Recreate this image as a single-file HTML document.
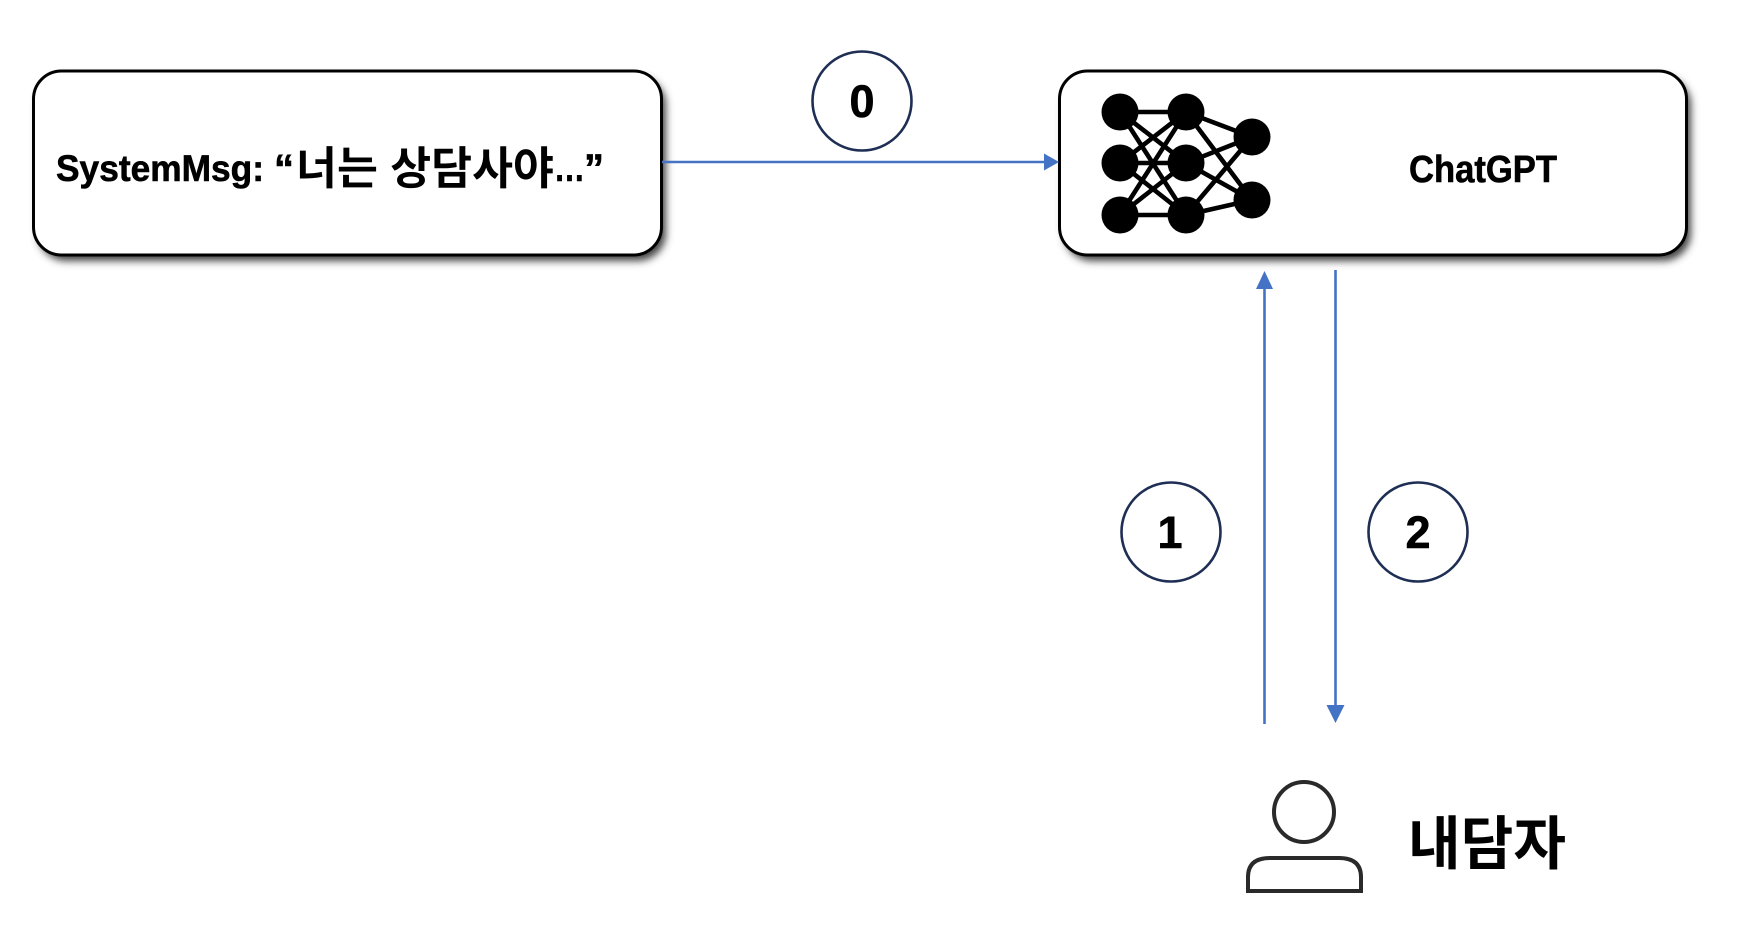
<!DOCTYPE html>
<html>
<head>
<meta charset="utf-8">
<style>
html,body{margin:0;padding:0;background:#fff;}
svg{display:block;}
text{font-family:"Liberation Sans","Noto Sans CJK KR",sans-serif;font-weight:700;fill:#000;}
.h{stroke:#000;stroke-width:.6px;}
</style>
</head>
<body>
<svg width="1738" height="930" viewBox="0 0 1738 930" xmlns="http://www.w3.org/2000/svg">
<defs>
<filter id="sh" x="-5%" y="-15%" width="110%" height="130%"><feGaussianBlur stdDeviation="4"/></filter>
</defs>
<rect width="1738" height="930" fill="#fff"/>

<!-- shadows -->
<rect x="38" y="77" width="628" height="184" rx="28" fill="#444" filter="url(#sh)"/>
<rect x="1064" y="77" width="627" height="184" rx="28" fill="#444" filter="url(#sh)"/>

<!-- boxes -->
<rect x="33.5" y="71" width="628" height="184" rx="28" fill="#fff" stroke="#000" stroke-width="3"/>
<rect x="1059.5" y="71" width="627" height="184" rx="28" fill="#fff" stroke="#000" stroke-width="3"/>

<!-- arrows -->
<g stroke="#4472C4" stroke-width="2.6" fill="none">
<line x1="662" y1="162" x2="1046" y2="162"/>
<line x1="1264.5" y1="286" x2="1264.5" y2="724"/>
<line x1="1335.5" y1="270" x2="1335.5" y2="708"/>
</g>
<g fill="#4472C4">
<polygon points="1059,162 1044,153.5 1044,170.5"/>
<polygon points="1264.5,271 1256,289 1273,289"/>
<polygon points="1335.5,723 1326.5,705 1344.5,705"/>
</g>

<!-- neural net -->
<g stroke="#000" stroke-width="4.6">
<line x1="1120" y1="112" x2="1186" y2="112"/>
<line x1="1120" y1="112" x2="1186" y2="163"/>
<line x1="1120" y1="112" x2="1186" y2="215"/>
<line x1="1120" y1="163" x2="1186" y2="112"/>
<line x1="1120" y1="163" x2="1186" y2="163"/>
<line x1="1120" y1="163" x2="1186" y2="215"/>
<line x1="1120" y1="215" x2="1186" y2="112"/>
<line x1="1120" y1="215" x2="1186" y2="163"/>
<line x1="1120" y1="215" x2="1186" y2="215"/>
<line x1="1186" y1="112" x2="1252" y2="137"/>
<line x1="1186" y1="112" x2="1252" y2="200"/>
<line x1="1186" y1="163" x2="1252" y2="137"/>
<line x1="1186" y1="163" x2="1252" y2="200"/>
<line x1="1186" y1="215" x2="1252" y2="137"/>
<line x1="1186" y1="215" x2="1252" y2="200"/>
</g>
<g fill="#000">
<circle cx="1120" cy="112" r="18.5"/>
<circle cx="1120" cy="163" r="18.5"/>
<circle cx="1120" cy="215" r="18.5"/>
<circle cx="1186" cy="112" r="18.5"/>
<circle cx="1186" cy="163" r="18.5"/>
<circle cx="1186" cy="215" r="18.5"/>
<circle cx="1252" cy="137" r="18.5"/>
<circle cx="1252" cy="200" r="18.5"/>
</g>

<!-- numbered circles -->
<g fill="#fff" stroke="#1F2E54" stroke-width="2.6">
<circle cx="862" cy="101" r="49.5"/>
<circle cx="1171" cy="532" r="49.5"/>
<circle cx="1418" cy="532" r="49.5"/>
</g>
<text class="h" x="862" y="117" font-size="45" text-anchor="middle">0</text>
<text class="h" x="1170" y="548" font-size="45" text-anchor="middle">1</text>
<text class="h" x="1418" y="548" font-size="45" text-anchor="middle">2</text>

<!-- labels -->
<text class="h" x="56" y="181" font-size="37" textLength="208" lengthAdjust="spacingAndGlyphs">SystemMsg:</text>
<text class="h" x="274" y="182" font-size="40" textLength="20" lengthAdjust="spacingAndGlyphs">“</text>
<text x="296" y="184" font-size="45" textLength="258" lengthAdjust="spacingAndGlyphs">너는 상담사야</text>
<text class="h" x="554" y="181" font-size="38" textLength="31" lengthAdjust="spacingAndGlyphs">…</text>
<text class="h" x="584" y="182" font-size="40" textLength="20" lengthAdjust="spacingAndGlyphs">”</text>
<text class="h" x="1409" y="182" font-size="38" textLength="148" lengthAdjust="spacingAndGlyphs">ChatGPT</text>
<text x="1408" y="864" font-size="58" textLength="158" lengthAdjust="spacingAndGlyphs">내담자</text>

<!-- person icon -->
<g fill="none" stroke="#2a2a2a" stroke-width="4">
<circle cx="1304" cy="812" r="30"/>
<path d="M1248 891 V877 Q1248 858 1270 858 H1339 Q1361 858 1361 877 V891 Z"/>
</g>
</svg>
</body>
</html>
